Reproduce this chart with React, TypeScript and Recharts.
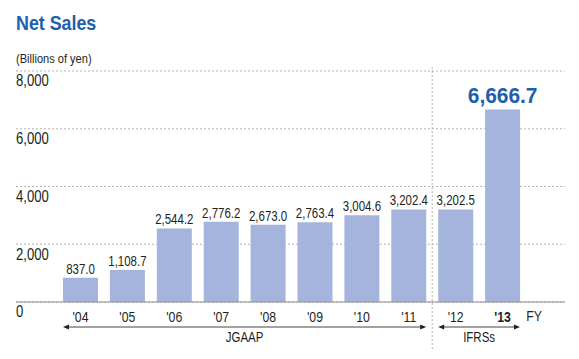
import React from 'react'
import {
  BarChart,
  Bar,
  XAxis,
  YAxis,
  CartesianGrid,
  LabelList,
  ReferenceArea,
} from 'recharts'

// Net sales, billions of yen (FY)
const years = ["'04", "'05", "'06", "'07", "'08", "'09", "'10", "'11", "'12", "'13"]
const netSales = [837.0, 1108.7, 2544.2, 2776.2, 2673.0, 2763.4, 3004.6, 3202.4, 3202.5, 6666.7]
const yTicks = [0, 2000, 4000, 6000, 8000]
const latestYear = "'13"

const data = years.map((year, i) => ({ year, sales: netSales[i] }))

// no condensed face installed, so squeeze Liberation Sans horizontally
const FONT = '"Liberation Sans", Arial, sans-serif'
const SQUEEZE = 0.82
const BLUE = '#1e60ab'
const BAR = '#a4b4dc'
const INK = '#231f20'

const fmt = (v: number) =>
  v.toLocaleString('en-US', { minimumFractionDigits: 1, maximumFractionDigits: 1 })

function T({ x, y, size, anchor = 'middle', weight = 'normal', fill = INK, sx = SQUEEZE, children }: any) {
  return (
    <text
      transform={`translate(${x},${y}) scale(${sx},1)`}
      textAnchor={anchor}
      fontSize={size}
      fontWeight={weight}
      fill={fill}
      fontFamily={FONT}
      dominantBaseline="central"
    >
      {children}
    </text>
  )
}

function YTick({ y, payload }: any) {
  return (
    <T x={16} y={y + 10} size={16} anchor="start">
      {payload.value.toLocaleString('en-US')}
    </T>
  )
}

function XTick({ x, y, payload }: any) {
  const bold = payload.value === latestYear
  return (
    <T x={x} y={y + 7} size={15} weight={bold ? 'bold' : 'normal'}>
      {payload.value}
    </T>
  )
}

function BarValue({ x, y, width, value, index }: any) {
  const latest = years[index] === latestYear
  if (latest) {
    return (
      <T x={x + width / 2} y={y - 14} size={22} weight="bold" fill={BLUE} sx={0.95}>
        {fmt(value)}
      </T>
    )
  }
  return (
    <T x={x + width / 2} y={y - 9} size={14}>
      {fmt(value)}
    </T>
  )
}

// double-headed arrow spanning a group of bars, with its label below
function Span(label: string, divider: boolean) {
  return (props: any) => {
    const { x, y, width, height } = props
    const inset = 6
    const x1 = x + inset
    const x2 = x + width - inset
    const ay = y + height + 25
    return (
      <g>
        {divider && (
          <line
            x1={x}
            x2={x}
            y1={y - 4}
            y2={y + height + 48}
            stroke="#b0b0b0"
            strokeDasharray="2 2"
          />
        )}
        <line x1={x1 + 4} x2={x2 - 4} y1={ay} y2={ay} stroke="#444" strokeWidth={1} />
        <polygon points={`${x1},${ay} ${x1 + 6},${ay - 2.5} ${x1 + 6},${ay + 2.5}`} fill="#222" />
        <polygon points={`${x2},${ay} ${x2 - 6},${ay - 2.5} ${x2 - 6},${ay + 2.5}`} fill="#222" />
        <T x={(x1 + x2) / 2} y={ay + 10} size={14}>
          {label}
        </T>
      </g>
    )
  }
}

export default function App() {
  return (
    <div style={{ position: 'absolute', left: 0, top: 0, width: 579, height: 359, background: '#fff' }}>
      <BarChart
        width={579}
        height={359}
        data={data}
        margin={{ top: 71, right: 14, left: 15, bottom: 27 }}
      >
        <T x={16} y={22} size={21} anchor="start" weight="bold" fill={BLUE} sx={0.85}>
          Net Sales
        </T>
        <T x={16} y={59} size={13.5} anchor="start">
          (Billions of yen)
        </T>
        <CartesianGrid vertical={false} stroke="#b4b4b4" strokeDasharray="2 2" />
        <YAxis
          domain={[0, 8000]}
          ticks={yTicks}
          width={1}
          axisLine={false}
          tickLine={false}
          tick={<YTick />}
        />
        <XAxis
          dataKey="year"
          height={30}
          axisLine={{ stroke: '#8f8f8f' }}
          tickLine={false}
          padding={{ left: 41, right: 39 }}
          tick={<XTick />}
          interval={0}
        />
        <ReferenceArea x1="'04" x2="'11" fill="none" stroke="none" shape={Span('JGAAP', false)} />
        <ReferenceArea x1="'12" x2="'13" fill="none" stroke="none" shape={Span('IFRSs', true)} />
        <Bar dataKey="sales" fill={BAR} barSize={35} isAnimationActive={false}>
          <LabelList dataKey="sales" content={<BarValue />} />
        </Bar>
        <T x={534} y={316} size={15}>
          FY
        </T>
      </BarChart>
    </div>
  )
}
